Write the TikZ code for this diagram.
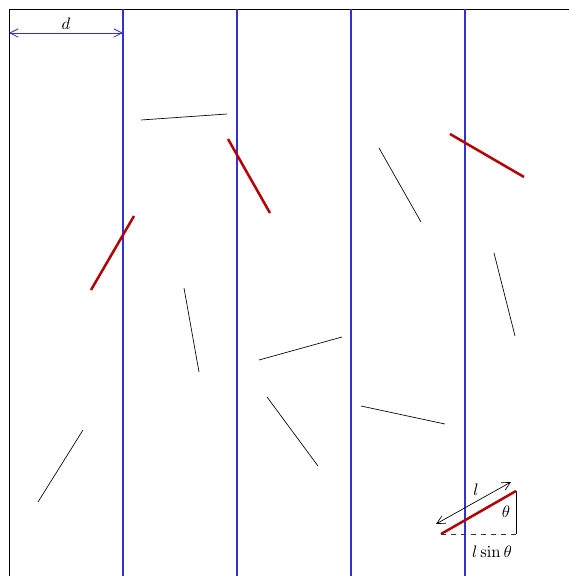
\documentclass[tikz,border=0pt]{standalone}
\usetikzlibrary{calc}
\usetikzlibrary{positioning}
\usetikzlibrary{arrows.meta}

\definecolor{linecol}{RGB}{50,50,210}
\definecolor{hitcol}{RGB}{180,0,0}

\tikzset{
    gridline/.style={draw=linecol, line width=0.7pt},
    needle/.style={black},
    hitneedle/.style={draw=hitcol, line width=1.5pt},
    myarrow/.style={{Straight Barb[length=5pt,width=5pt]}-{Straight Barb[length=5pt,width=5pt]}},
    lbl/.style={inner sep=1pt}
}

\begin{document}
\begin{tikzpicture}[x=0.6pt, y=-0.6pt]

\useasboundingbox (0,0) rectangle (569,576);

% Frame
\draw (9,576) -- (9,9) -- (569,9);

% Parallel lines
\foreach \xpos/\name in {123/L1, 237/L2, 351/L3, 465/L4}{
  \coordinate (\name top) at (\xpos,9);
  \coordinate (\name bot) at (\xpos,576);
  \draw[gridline] (\name top) -- (\name bot);
}

% Spacing d
\coordinate (d0) at (9,33);
\coordinate (d1) at (123,33);
\draw[gridline, line width=0.5pt, myarrow] (d0) -- (d1);
\node[lbl, above=1pt of $(d0)!0.5!(d1)$] (dlabel) {$d$};

% Needles not crossing a line
\foreach \xa/\ya/\xb/\yb in {141/120/227/114, 379/148/421/222, 494/253/515/336,
                             184/288/199/372, 259/360/342/337, 267/397/318/466,
                             361/406/445/424, 38/502/83/430}
  \draw[needle] (\xa,\ya) -- (\xb,\yb);

% Needles crossing a line
\foreach \xa/\ya/\xb/\yb in {228/139/270/213, 91/290/134/216, 450/134/524/177}
  \draw[hitneedle] (\xa,\ya) -- (\xb,\yb);

%%% Annotated needle %%%
\coordinate (A) at (441,534);
\coordinate (B) at (516,491);
\coordinate (C) at (516,534);
\coordinate (l0) at (436,524);
\coordinate (l1) at (511,482);

\draw[dashed, black!80] (A) -- (C);
\draw (B) -- (C);
\draw[hitneedle] (A) -- (B);
\draw[myarrow] (l0) -- (l1);

\node[lbl] (llabel) at (476,490) {$l$};
\node[lbl] (theta) at (506,512) {$\theta$};
\node[lbl] (proj) at (492,552) {$l\sin\theta$};

\end{tikzpicture}
\end{document}
